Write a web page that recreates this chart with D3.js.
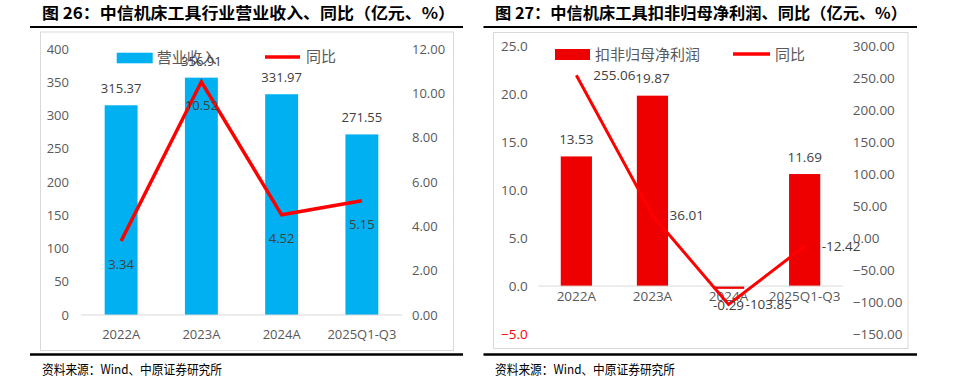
<!DOCTYPE html>
<html><head><meta charset="utf-8">
<script src="https://cdn.jsdelivr.net/npm/d3@7"></script>
<style>
html,body{margin:0;padding:0;background:#fff;}
svg{display:block;}
text{font-family:"Open Sans","Noto Sans CJK SC",sans-serif;}
.cjk{font-family:"Noto Sans CJK SC","Noto Sans",sans-serif;}
</style></head>
<body>
<svg id="c" width="959" height="384"></svg>
<script>
// ---- Data ----
const categories = ["2022A", "2023A", "2024A", "2025Q1-Q3"];
const revenue = [315.37, 356.91, 331.97, 271.55];
const revenueYoY = [3.34, 10.52, 4.52, 5.15];
const profit = [13.53, 19.87, -0.29, 11.69];
const profitYoY = [255.06, 36.01, -103.85, -12.42];
const leftTicksL = [0, 50, 100, 150, 200, 250, 300, 350, 400];
const leftTicksR = [0, 2, 4, 6, 8, 10, 12];
const rightTicksL = [-5, 0, 5, 10, 15, 20, 25];
const rightTicksR = [-150, -100, -50, 0, 50, 100, 150, 200, 250, 300];
const titles = ["图 26：中信机床工具行业营业收入、同比（亿元、%）", "图 27：中信机床工具扣非归母净利润、同比（亿元、%）"];
const legendNames = [["营业收入", "同比"], ["扣非归母净利润", "同比"]];
const sourceText = "资料来源：Wind、中原证券研究所";

const svg = d3.select("#c");
svg.append("rect").attr("width", 959).attr("height", 384).attr("fill", "#fff");

const AX = "#595959", LB = "#404040";

function frame(o) {
  svg.append("text").attr("class", "cjk").attr("x", o.tx).attr("y", 19)
    .attr("font-size", 16).attr("font-weight", "bold").attr("fill", "#000")
    .attr("textLength", o.tw).attr("lengthAdjust", "spacingAndGlyphs").text(o.title);
  svg.append("line").attr("x1", o.l1).attr("x2", o.l2).attr("y1", 27).attr("y2", 27)
    .attr("stroke", "#000").attr("stroke-width", 2);
  svg.append("rect").attr("x", o.bx + 0.5).attr("y", o.by + 0.5).attr("width", o.bw).attr("height", o.bh)
    .attr("fill", "none").attr("stroke", "#D9D9D9").attr("stroke-width", 1);
  svg.append("line").attr("x1", o.l1).attr("x2", o.l2).attr("y1", 354.5).attr("y2", 354.5)
    .attr("stroke", "#000").attr("stroke-width", 2.5);
  svg.append("text").attr("class", "cjk").attr("x", o.tx).attr("y", 374)
    .attr("font-size", 13).attr("fill", "#000")
    .attr("textLength", 180).attr("lengthAdjust", "spacingAndGlyphs").text(sourceText);
}

function styleAxis(g, fs, color) {
  g.select(".domain").remove();
  g.selectAll("text").attr("font-size", fs).attr("fill", color || AX)
    .attr("font-family", "'Open Sans',sans-serif");
}

// ---------- Left chart ----------
frame({tx: 42, tw: 413, title: titles[0], l1: 30, l2: 463, bx: 40, by: 31.5, bw: 413, bh: 318.5});
{
  const x = d3.scaleBand().domain(categories).range([81, 402]).paddingInner(0.59).paddingOuter(0.295);
  const yL = d3.scaleLinear().domain([0, 400]).range([315, 49]);
  const yR = d3.scaleLinear().domain([0, 12]).range([315, 49]);
  const g = svg.append("g");

  const axL = g.append("g").attr("transform", "translate(73,0)")
    .call(d3.axisLeft(yL).tickValues(leftTicksL).tickSize(0).tickPadding(4).tickFormat(d3.format("d")));
  styleAxis(axL, 13);
  const axR = g.append("g").attr("transform", "translate(408,0)")
    .call(d3.axisRight(yR).tickValues(leftTicksR).tickSize(0).tickPadding(4).tickFormat(d3.format(".2f")));
  styleAxis(axR, 13);

  g.selectAll(".bar").data(revenue).join("rect")
    .attr("x", (d, i) => x(categories[i])).attr("width", x.bandwidth())
    .attr("y", d => yL(d)).attr("height", d => yL(0) - yL(d)).attr("fill", "#00B0F0");

  g.append("line").attr("x1", 81).attr("x2", 402).attr("y1", yL(0)).attr("y2", yL(0))
    .attr("stroke", "#D9D9D9").attr("stroke-width", 1);
  const axB = g.append("g").attr("transform", `translate(0,${yL(0)})`)
    .call(d3.axisBottom(x).tickSize(0).tickPadding(14.3));
  styleAxis(axB, 13);

  const line = d3.line().x((d, i) => x(categories[i]) + x.bandwidth() / 2).y(d => yR(d));
  g.append("path").datum(revenueYoY).attr("d", line).attr("fill", "none")
    .attr("stroke", "#FF0000").attr("stroke-width", 3.5).attr("stroke-linejoin", "miter");

  // legend
  g.append("rect").attr("x", 116.7).attr("y", 52.7).attr("width", 36).attr("height", 10.6).attr("fill", "#00B0F0");
  g.append("text").attr("class", "cjk").attr("x", 156.7).attr("y", 58).attr("dy", "0.36em")
    .attr("font-size", 15).attr("fill", AX).text(legendNames[0][0]);
  g.append("line").attr("x1", 265).attr("x2", 300).attr("y1", 57).attr("y2", 57)
    .attr("stroke", "#FF0000").attr("stroke-width", 3.5);
  g.append("text").attr("class", "cjk").attr("x", 306).attr("y", 57).attr("dy", "0.36em")
    .attr("font-size", 15).attr("fill", AX).text(legendNames[0][1]);

  // labels
  g.selectAll(".bl").data(revenue).join("text")
    .attr("x", (d, i) => x(categories[i]) + x.bandwidth() / 2).attr("y", d => yL(d) - 12)
    .attr("text-anchor", "middle").attr("font-size", 13).attr("fill", LB).text(d => d.toFixed(2));
  g.selectAll(".ll").data(revenueYoY).join("text")
    .attr("x", (d, i) => x(categories[i]) + x.bandwidth() / 2).attr("y", d => yR(d) + 28)
    .attr("text-anchor", "middle").attr("font-size", 13).attr("fill", LB).text(d => d.toFixed(2));
}

// ---------- Right chart ----------
frame({tx: 495, tw: 412, title: titles[1], l1: 483.5, l2: 917, bx: 493, by: 32, bw: 414.5, bh: 316});
{
  const x = d3.scaleBand().domain(categories).range([538.3, 842.7]).paddingInner(0.59).paddingOuter(0.295);
  const yL = d3.scaleLinear().domain([-5, 25]).range([334, 46.5]);
  const yR = d3.scaleLinear().domain([-150, 300]).range([334, 46.5]);
  const g = svg.append("g");

  const axL = g.append("g").attr("transform", "translate(531.7,0)")
    .call(d3.axisLeft(yL).tickValues(rightTicksL).tickSize(0).tickPadding(4).tickFormat(d3.format(".1f")));
  styleAxis(axL, 13.5);
  axL.selectAll("text").attr("fill", d => d < 0 ? "#FF0000" : AX);
  const axR = g.append("g").attr("transform", "translate(848.7,0)")
    .call(d3.axisRight(yR).tickValues(rightTicksR).tickSize(0).tickPadding(4).tickFormat(d3.format(".2f")));
  styleAxis(axR, 13.5);

  g.selectAll(".bar").data(profit).join("rect")
    .attr("x", (d, i) => x(categories[i])).attr("width", x.bandwidth())
    .attr("y", d => Math.min(yL(d), yL(0))).attr("height", d => Math.abs(yL(0) - yL(d))).attr("fill", "#EE0000");

  g.append("line").attr("x1", 538.3).attr("x2", 842.7).attr("y1", yL(0)).attr("y2", yL(0))
    .attr("stroke", "#D9D9D9").attr("stroke-width", 1);
  const axB = g.append("g").attr("transform", `translate(0,${yL(0)})`)
    .call(d3.axisBottom(x).tickSize(0).tickPadding(5));
  styleAxis(axB, 13.5);

  const line = d3.line().x((d, i) => x(categories[i]) + x.bandwidth() / 2).y(d => yR(d));
  g.append("path").datum(profitYoY).attr("d", line).attr("fill", "none")
    .attr("stroke", "#FF0000").attr("stroke-width", 3).attr("stroke-linejoin", "miter");

  // legend
  g.append("rect").attr("x", 555).attr("y", 49).attr("width", 35).attr("height", 11).attr("fill", "#EE0000");
  g.append("text").attr("class", "cjk").attr("x", 595).attr("y", 54.5).attr("dy", "0.36em")
    .attr("font-size", 15).attr("fill", AX).text(legendNames[1][0]);
  g.append("line").attr("x1", 733).attr("x2", 770).attr("y1", 54).attr("y2", 54)
    .attr("stroke", "#FF0000").attr("stroke-width", 3.5);
  g.append("text").attr("class", "cjk").attr("x", 775).attr("y", 54.5).attr("dy", "0.36em")
    .attr("font-size", 15).attr("fill", AX).text(legendNames[1][1]);

  // labels
  g.selectAll(".bl").data(profit).join("text")
    .attr("x", (d, i) => x(categories[i]) + x.bandwidth() / 2)
    .attr("y", d => d >= 0 ? yL(d) - 12.5 : yL(d) + 21)
    .attr("text-anchor", "middle").attr("font-size", 13.5).attr("fill", LB).text(d => d.toFixed(2));
  g.selectAll(".ll").data(profitYoY).join("text")
    .attr("x", (d, i) => x(categories[i]) + x.bandwidth() / 2 + 17).attr("y", d => yR(d)).attr("dy", "0.35em")
    .attr("text-anchor", "start").attr("font-size", 13.5).attr("fill", LB).text(d => d.toFixed(2));
}
</script>
</body></html>
